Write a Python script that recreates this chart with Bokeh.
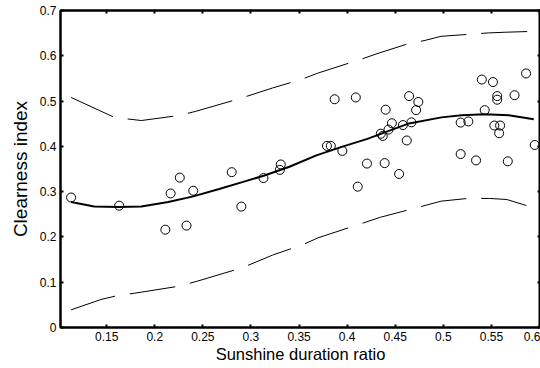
from bokeh.plotting import figure
from bokeh.models import LinearAxis, FixedTicker, Range1d
from bokeh.embed import file_html
from bokeh.resources import INLINE

# Observed data (sunshine duration ratio, clearness index)
obs_x = [0.113, 0.163, 0.211, 0.2165, 0.226, 0.233, 0.240, 0.280, 0.290, 0.313,
         0.331, 0.330, 0.379, 0.383, 0.387, 0.395, 0.409, 0.4206, 0.411, 0.435,
         0.437, 0.440, 0.443, 0.4465, 0.439, 0.454, 0.458, 0.462, 0.4644, 0.4668,
         0.4717, 0.474, 0.518, 0.526, 0.518, 0.534, 0.540, 0.543, 0.5516, 0.556,
         0.556, 0.553, 0.559, 0.558, 0.567, 0.574, 0.586, 0.595]
obs_y = [0.287, 0.269, 0.216, 0.296, 0.331, 0.225, 0.302, 0.343, 0.267, 0.330,
         0.360, 0.348, 0.401, 0.401, 0.504, 0.390, 0.508, 0.362, 0.311, 0.428,
         0.423, 0.481, 0.437, 0.451, 0.363, 0.339, 0.447, 0.413, 0.511, 0.453,
         0.480, 0.498, 0.4525, 0.455, 0.383, 0.369, 0.5475, 0.480, 0.542, 0.511,
         0.503, 0.446, 0.446, 0.429, 0.367, 0.513, 0.561, 0.403]

# Fitted curve
fit_x = [0.113, 0.137, 0.162, 0.186, 0.214, 0.239, 0.267, 0.291, 0.314, 0.340,
         0.368, 0.396, 0.421, 0.435, 0.463, 0.498, 0.519, 0.543, 0.568, 0.594]
fit_y = [0.277, 0.267, 0.266, 0.267, 0.277, 0.289, 0.306, 0.321, 0.3355, 0.355,
         0.380, 0.400, 0.4165, 0.4276, 0.4497, 0.464, 0.4687, 0.471, 0.4687, 0.4598]

# Upper bound
up_x = [0.113, 0.158, 0.186, 0.2246, 0.242, 0.2876, 0.3226, 0.352, 0.370, 0.4153,
        0.433, 0.4626, 0.480, 0.4977, 0.5467, 0.564, 0.5945]
up_y = [0.508, 0.464, 0.457, 0.468, 0.477, 0.505, 0.529, 0.5475, 0.562, 0.593,
        0.606, 0.626, 0.6335, 0.643, 0.6505, 0.652, 0.654]

# Lower bound
lo_x = [0.113, 0.144, 0.1616, 0.179, 0.2246, 0.2438, 0.291, 0.3226, 0.354, 0.3697,
        0.417, 0.4347, 0.482, 0.4977, 0.5256, 0.548, 0.566, 0.5945]
lo_y = [0.039, 0.0618, 0.0706, 0.0757, 0.091, 0.102, 0.132, 0.160, 0.183, 0.198,
        0.231, 0.2435, 0.270, 0.279, 0.285, 0.285, 0.2826, 0.264]

x_ticks = [0.15, 0.2, 0.25, 0.3, 0.35, 0.4, 0.45, 0.5, 0.55, 0.6]
y_ticks = [0, 0.1, 0.2, 0.3, 0.4, 0.5, 0.6, 0.7]
x_labels = {0.15: "0.15", 0.2: "0.2", 0.25: "0.25", 0.3: "0.3", 0.35: "0.35",
            0.4: "0.4", 0.45: "0.45", 0.5: "0.5", 0.55: "0.55", 0.6: "0.6"}
y_labels = {0: "0", 0.1: "0.1", 0.2: "0.2", 0.3: "0.3", 0.4: "0.4", 0.5: "0.5",
            0.6: "0.6", 0.7: "0.7"}

FONT = "Liberation Sans"

p = figure(width=540, height=368, output_backend="svg", toolbar_location=None,
           x_range=Range1d(0.102, 0.601), y_range=Range1d(0, 0.7),
           min_border_left=60, min_border_right=0, min_border_top=10,
           min_border_bottom=41, x_axis_label="Sunshine duration ratio",
           y_axis_label="Clearness index")
p.background_fill_color = "white"
p.border_fill_color = "white"
p.outline_line_color = "black"
p.outline_line_width = 2
p.xgrid.visible = False
p.ygrid.visible = False

def style_axis(ax, ticks, labels, show_labels=True):
    ax.ticker = FixedTicker(ticks=ticks)
    ax.major_tick_in = 3
    ax.major_tick_out = 0
    ax.major_tick_line_width = 2
    ax.minor_tick_line_color = None
    ax.axis_line_width = 2
    ax.axis_line_color = "black"
    if show_labels:
        ax.major_label_overrides = labels
        ax.major_label_text_font = FONT
        ax.major_label_text_font_size = "12px"
        ax.major_label_text_color = "black"
        ax.axis_label_text_font = FONT
        ax.axis_label_text_font_style = "normal"
        ax.axis_label_text_color = "black"
        ax.major_label_standoff = 4
    else:
        ax.major_label_overrides = {t: "" for t in ticks}
        ax.major_label_text_font_size = "0px"
        ax.major_label_standoff = 0
        ax.axis_label = None
        ax.axis_label_standoff = 0
        ax.major_label_text_alpha = 0

style_axis(p.xaxis[0], x_ticks, x_labels)
style_axis(p.yaxis[0], y_ticks, y_labels)
p.xaxis[0].axis_label_text_font_size = "16.5px"
p.xaxis[0].axis_label_standoff = 1
p.yaxis[0].axis_label_text_font_size = "19px"
p.yaxis[0].axis_label_standoff = 6

top = LinearAxis()
style_axis(top, x_ticks, x_labels, show_labels=False)
right = LinearAxis()
style_axis(right, y_ticks, y_labels, show_labels=False)
p.add_layout(top, "above")
p.add_layout(right, "right")

p.line(up_x, up_y, line_color="black", line_width=1, line_dash="46 15")
p.line(lo_x, lo_y, line_color="black", line_width=1, line_dash="46 15")
p.line(fit_x, fit_y, line_color="black", line_width=2)
p.scatter(obs_x, obs_y, marker="circle", size=9, fill_color=None,
          line_color="black", line_width=1)

open("out.html", "w").write(file_html(p, INLINE))
